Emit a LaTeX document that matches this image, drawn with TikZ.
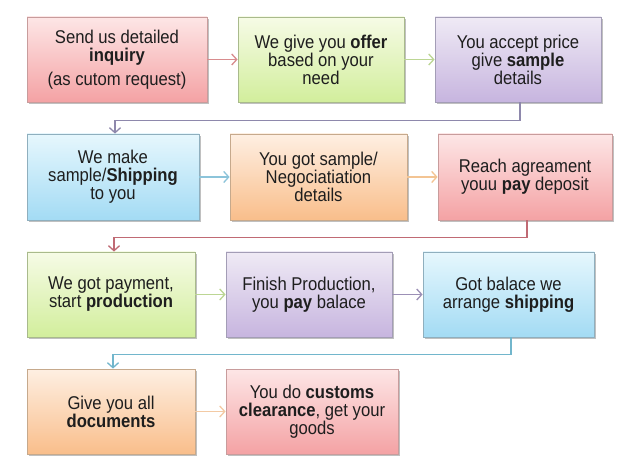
\documentclass[tikz,border=0pt]{standalone}
\usepackage{fontspec}
\setmainfont{Liberation Sans}[FakeStretch=0.9]
\usetikzlibrary{shadows,arrows.meta}
\definecolor{txt}{HTML}{1E1E1E}
\definecolor{pinkT}{HTML}{FDE6E6}
\definecolor{pinkB}{HTML}{F4A2A4}
\definecolor{pinkD}{HTML}{C89C9C}
\definecolor{greenT}{HTML}{F6FBE6}
\definecolor{greenB}{HTML}{D2EE9C}
\definecolor{greenD}{HTML}{A9BA8C}
\definecolor{purpT}{HTML}{EFEAF5}
\definecolor{purpB}{HTML}{C7B5DF}
\definecolor{purpD}{HTML}{A39DB6}
\definecolor{blueT}{HTML}{E6F7FD}
\definecolor{blueB}{HTML}{A3DBF4}
\definecolor{blueD}{HTML}{8FAFBE}
\definecolor{orngT}{HTML}{FEEFE2}
\definecolor{orngB}{HTML}{F9BE8B}
\definecolor{orngD}{HTML}{C6A98C}
\definecolor{aPink}{HTML}{D88C8E}
\definecolor{aGreen}{HTML}{BCD694}
\definecolor{aPurp}{HTML}{8E88AC}
\definecolor{aBlue}{HTML}{8CC4DA}
\definecolor{aOrng}{HTML}{F3C493}
\definecolor{aRed}{HTML}{C06A74}
\definecolor{aPurp2}{HTML}{9C90B6}
\definecolor{aBlue2}{HTML}{72B6CC}
\definecolor{aOrng2}{HTML}{F3CAA4}
\tikzset{
  box/.style={rectangle, line width=0.8pt, align=center, text=txt,
    font=\fontsize{18.5}{18}\selectfont, inner sep=2pt,
    drop shadow={shadow xshift=1.5pt, shadow yshift=-1.8pt, opacity=0.35, fill=black!70}},
  pinkbox/.style={box, top color=pinkT, bottom color=pinkB, draw=pinkD},
  greenbox/.style={box, top color=greenT, bottom color=greenB, draw=greenD},
  purpbox/.style={box, top color=purpT, bottom color=purpB, draw=purpD},
  bluebox/.style={box, top color=blueT, bottom color=blueB, draw=blueD},
  orngbox/.style={box, top color=orngT, bottom color=orngB, draw=orngD},
  arr/.style={-{Straight Barb[length=5pt,width=11pt]}, line width=1.3pt},
}
\begin{document}
\begin{tikzpicture}[x=1pt,y=-1pt]
\useasboundingbox[fill=white] (0,0) rectangle (632,470);
% row 1
\node[pinkbox, minimum width=180, minimum height=85] (A) at (117,59.5)
  {Send us detailed\\ \textbf{inquiry}\\[6pt] (as cutom request)};
\node[greenbox, minimum width=166, minimum height=85] (B) at (321,59.5)
  {We give you \textbf{offer}\\ based on your\\ need};
\node[purpbox, minimum width=166, minimum height=85] (C) at (518,59.5)
  {You accept price\\ give \textbf{sample}\\ details};
% row 2
\node[bluebox, minimum width=172, minimum height=86] (D) at (113,177)
  {We make\\ sample/\textbf{Shipping}\\ to you};
\node[orngbox, minimum width=177, minimum height=86] (E) at (318.5,177)
  {You got sample/\\ Negociatiation\\ details};
\node[pinkbox, minimum width=174, minimum height=86] (F) at (525,177)
  {Reach agreament\\ youu \textbf{pay} deposit};
% row 3
\node[greenbox, minimum width=168, minimum height=85] (G) at (111,294.5)
  {We got payment,\\ start \textbf{production}};
\node[purpbox, minimum width=166, minimum height=85] (H) at (309,294.5)
  {Finish Production,\\ you \textbf{pay} balace};
\node[bluebox, minimum width=171, minimum height=85] (I) at (508.5,294.5)
  {Got balace we\\ arrange \textbf{shipping}};
% row 4
\node[orngbox, minimum width=168, minimum height=85] (J) at (111,411.5)
  {Give you all\\ \textbf{documents}};
\node[pinkbox, minimum width=172, minimum height=85] (K) at (312,411.5)
  {You do \textbf{customs}\\ \textbf{clearance}, get your\\ goods};
% connectors
\draw[arr, aPink] (A) -- (B);
\draw[arr, aGreen] (B) -- (C);
\draw[arr, aPurp] ([xshift=2]C.south) -- ++(0,18) -| ([xshift=2]D.north);
\draw[arr, aBlue] (D) -- (E);
\draw[arr, aOrng] (E) -- (F);
\draw[arr, aRed] ([xshift=2]F.south) -- ++(0,17) -| ([xshift=3]G.north);
\draw[arr, aGreen] (G) -- (H);
\draw[arr, aPurp2] (H) -- (I);
\draw[arr, aBlue2] ([xshift=2.5]I.south) -- ++(0,17) -| ([xshift=2]J.north);
\draw[arr, aOrng2] (J) -- (K);
\end{tikzpicture}
\end{document}
